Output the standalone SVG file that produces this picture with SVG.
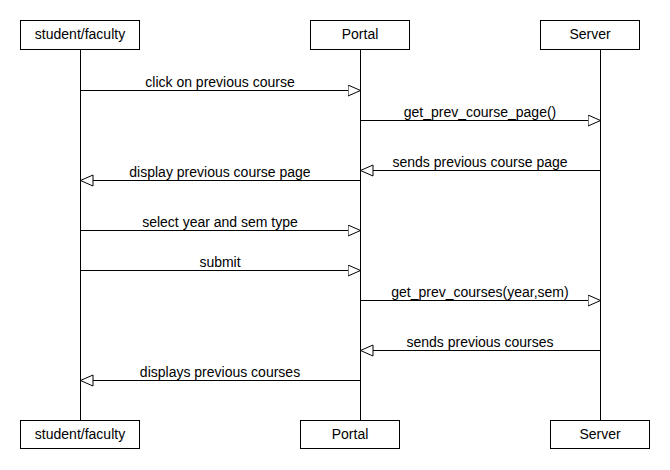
<svg xmlns="http://www.w3.org/2000/svg" width="670" height="470" viewBox="0 0 670 470">
<defs>
<marker id="arr" markerUnits="userSpaceOnUse" markerWidth="16" markerHeight="14" refX="13" refY="6" orient="auto">
<path d="M0.5,0.5 L13,6 L0.5,11.5 Z" fill="#fff" stroke="#000" stroke-width="1"/>
</marker>
<style>
.box{fill:#fff;stroke:#000;stroke-width:1}
.life{stroke:#000;stroke-width:1;fill:none}
.msg{stroke:#000;stroke-width:1;fill:none;marker-end:url(#arr)}
text{font-family:"Liberation Sans",Arial,sans-serif;font-size:14px;fill:#000;text-anchor:middle}
</style>
</defs>
<rect width="670" height="470" fill="#fff"/>
<g id="lifelines">
<line class="life" x1="80.5" y1="50" x2="80.5" y2="420"/>
<line class="life" x1="360.5" y1="50" x2="360.5" y2="420"/>
<line class="life" x1="600.5" y1="50" x2="600.5" y2="420"/>
</g>
<g id="student-top"><rect class="box" x="20.5" y="20.5" width="119" height="29"/><text x="80" y="38.5">student/faculty</text></g>
<g id="portal-top"><rect class="box" x="310.5" y="20.5" width="99" height="29"/><text x="360" y="38.5">Portal</text></g>
<g id="server-top"><rect class="box" x="540.5" y="20.5" width="99" height="29"/><text x="590" y="38.5">Server</text></g>
<g id="student-bottom"><rect class="box" x="20.5" y="420.5" width="119" height="28"/><text x="80" y="438.5">student/faculty</text></g>
<g id="portal-bottom"><rect class="box" x="300.5" y="420.5" width="99" height="28"/><text x="350" y="438.5">Portal</text></g>
<g id="server-bottom"><rect class="box" x="550.5" y="420.5" width="99" height="28"/><text x="600" y="438.5">Server</text></g>
<g id="connectors">
<line class="msg" x1="80.5" y1="90.5" x2="360.5" y2="90.5"/>
<text x="220" y="87">click on previous course</text>
<line class="msg" x1="360.5" y1="120.5" x2="600.5" y2="120.5"/>
<text x="480" y="117">get_prev_course_page()</text>
<line class="msg" x1="600.5" y1="170.5" x2="360.5" y2="170.5"/>
<text x="480" y="167">sends previous course page</text>
<line class="msg" x1="360.5" y1="180.5" x2="80.5" y2="180.5"/>
<text x="220" y="177">display previous course page</text>
<line class="msg" x1="80.5" y1="230.5" x2="360.5" y2="230.5"/>
<text x="220" y="227">select year and sem type</text>
<line class="msg" x1="80.5" y1="270.5" x2="360.5" y2="270.5"/>
<text x="220" y="267">submit</text>
<line class="msg" x1="360.5" y1="300.5" x2="600.5" y2="300.5"/>
<text x="480" y="297">get_prev_courses(year,sem)</text>
<line class="msg" x1="600.5" y1="350.5" x2="360.5" y2="350.5"/>
<text x="480" y="347">sends previous courses</text>
<line class="msg" x1="360.5" y1="380.5" x2="80.5" y2="380.5"/>
<text x="220" y="377">displays previous courses</text>
</g>
</svg>
